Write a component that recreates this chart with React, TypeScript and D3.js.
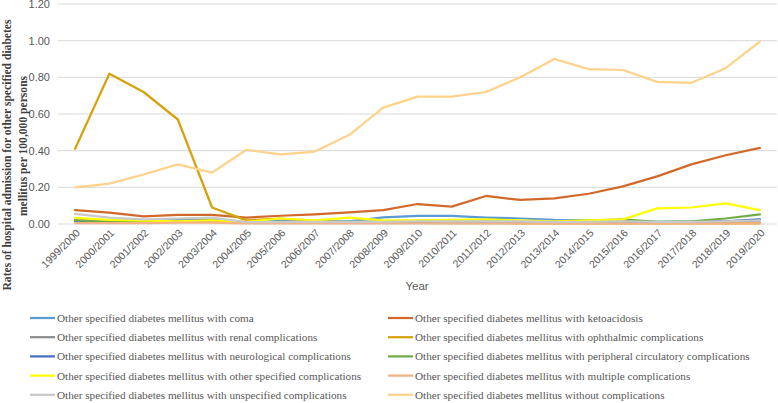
import React from "react";
import * as d3 from "d3";

const years = ["1999/2000","2000/2001","2001/2002","2002/2003","2003/2004","2004/2005","2005/2006","2006/2007","2007/2008","2008/2009","2009/2010","2010/2011","2011/2012","2012/2013","2013/2014","2014/2015","2015/2016","2016/2017","2017/2018","2018/2019","2019/2020"];
const yTicks = [0, 0.2, 0.4, 0.6, 0.8, 1.0, 1.2];

const coma = [0.02,0.015,0.012,0.025,0.022,0.01,0.02,0.015,0.015,0.036,0.044,0.044,0.035,0.03,0.022,0.02,0.018,0.012,0.012,0.015,0.02];
const ketoacidosis = [0.076,0.062,0.042,0.05,0.05,0.035,0.045,0.053,0.064,0.076,0.109,0.095,0.153,0.131,0.14,0.165,0.205,0.26,0.325,0.375,0.415];
const renal = [0.02,0.018,0.015,0.018,0.02,0.008,0.01,0.01,0.01,0.01,0.01,0.01,0.008,0.008,0.006,0.006,0.008,0.006,0.006,0.006,0.008];
const ophthalmic = [0.41,0.82,0.72,0.57,0.09,0.02,0.03,0.015,0.01,0.008,0.006,0.005,0.005,0.004,0.004,0.004,0.004,0.003,0.003,0.003,0.003];
const neurological = [0.015,0.012,0.012,0.012,0.015,0.008,0.012,0.01,0.01,0.012,0.012,0.012,0.01,0.01,0.008,0.008,0.01,0.01,0.012,0.015,0.025];
const peripheral = [0.02,0.015,0.015,0.015,0.015,0.008,0.012,0.012,0.012,0.015,0.015,0.015,0.018,0.015,0.015,0.018,0.025,0.012,0.015,0.03,0.053];
const otherSpecified = [0.033,0.022,0.018,0.015,0.02,0.012,0.03,0.02,0.035,0.02,0.02,0.022,0.025,0.02,0.015,0.02,0.025,0.085,0.09,0.113,0.076];
const multiple = [0.005,0.005,0.005,0.008,0.008,0.003,0.004,0.004,0.004,0.004,0.004,0.004,0.004,0.004,0.004,0.004,0.004,0.004,0.004,0.004,0.004];
const unspecified = [0.055,0.035,0.025,0.03,0.035,0.01,0.012,0.012,0.012,0.012,0.015,0.015,0.015,0.015,0.012,0.012,0.015,0.012,0.012,0.015,0.02];
const without = [0.2,0.22,0.27,0.325,0.28,0.405,0.38,0.395,0.485,0.635,0.695,0.695,0.72,0.8,0.9,0.845,0.84,0.775,0.77,0.85,0.995];

const seriesNames = [
  "Other specified diabetes mellitus with coma",
  "Other specified diabetes mellitus with ketoacidosis",
  "Other specified diabetes mellitus with renal complications",
  "Other specified diabetes mellitus with ophthalmic complications",
  "Other specified diabetes mellitus with neurological complications",
  "Other specified diabetes mellitus with peripheral circulatory complications",
  "Other specified diabetes mellitus with other specified complications",
  "Other specified diabetes mellitus with multiple complications",
  "Other specified diabetes mellitus with unspecified complications",
  "Other specified diabetes mellitus without complications",
];
const seriesValues = [coma, ketoacidosis, renal, ophthalmic, neurological, peripheral, otherSpecified, multiple, unspecified, without];
const seriesColors = ["#5B9BD5","#D2692B","#8E8E8E","#D6A20C","#4472C4","#70AD47","#FFFF00","#F4B183","#C9C9C9","#FFD28A"];

export default function App() {
  const W = 778, H = 403;
  const x = d3.scaleBand<string>().domain(years).range([58, 777]);
  const y = d3.scaleLinear().domain([0, 1.2]).range([224, 4]);
  const line = d3.line<number>()
    .x((_, i) => (x(years[i]) as number) + x.bandwidth() / 2)
    .y((d) => y(d));
  const sans = "'Liberation Sans', Arial, sans-serif";
  const serif = "'Liberation Serif', 'Times New Roman', serif";
  return (
    <svg width={W} height={H} style={{ position: "absolute", left: 0, top: 0, background: "#fff" }}>
      <rect width={W} height={H} fill="#fff" />
      {yTicks.map((t) => (
        <g key={t}>
          <line x1={58} x2={777} y1={y(t)} y2={y(t)} stroke="#d9d9d9" strokeWidth={1} />
          <text x={50} y={y(t)} dy="0.35em" textAnchor="end" fontFamily={sans} fontSize={11} fill="#595959">
            {t.toFixed(2)}
          </text>
        </g>
      ))}
      {years.map((yr) => {
        const cx = (x(yr) as number) + x.bandwidth() / 2;
        return (
          <text key={yr} transform={`translate(${cx + 3},${231}) rotate(-45)`} textAnchor="end" dy="0.35em"
            fontFamily={sans} fontSize={10.5} fill="#595959">{yr}</text>
        );
      })}
      {seriesValues.map((vals, i) => (
        <path key={i} d={line(vals) || ""} fill="none" stroke={seriesColors[i]} strokeWidth={2.25}
          strokeLinejoin="round" strokeLinecap="round" />
      ))}
      <text x={417} y={286} dy="0.35em" textAnchor="middle" fontFamily={sans} fontSize={11.5} fill="#595959">Year</text>
      <text transform="translate(11,155) rotate(-90)" textAnchor="middle" fontFamily={serif} fontWeight="bold" fontSize={11.6} fill="#404040">
        Rates of hospital admission for other specified diabetes
      </text>
      <text transform="translate(27,146) rotate(-90)" textAnchor="middle" fontFamily={serif} fontWeight="bold" fontSize={11.6} fill="#404040">
        mellitus per 100,000 persons
      </text>
      {seriesNames.map((name, i) => {
        const col = i % 2;
        const row = Math.floor(i / 2);
        const lx = col === 0 ? 30 : 388;
        const ly = 318 + row * 19.2;
        return (
          <g key={name}>
            <line x1={lx} x2={lx + 25} y1={ly} y2={ly} stroke={seriesColors[i]} strokeWidth={2.25} />
            <text x={lx + 27} y={ly} dy="0.35em" fontFamily={serif} fontSize={11.2} fill="#595959">{name}</text>
          </g>
        );
      })}
    </svg>
  );
}
